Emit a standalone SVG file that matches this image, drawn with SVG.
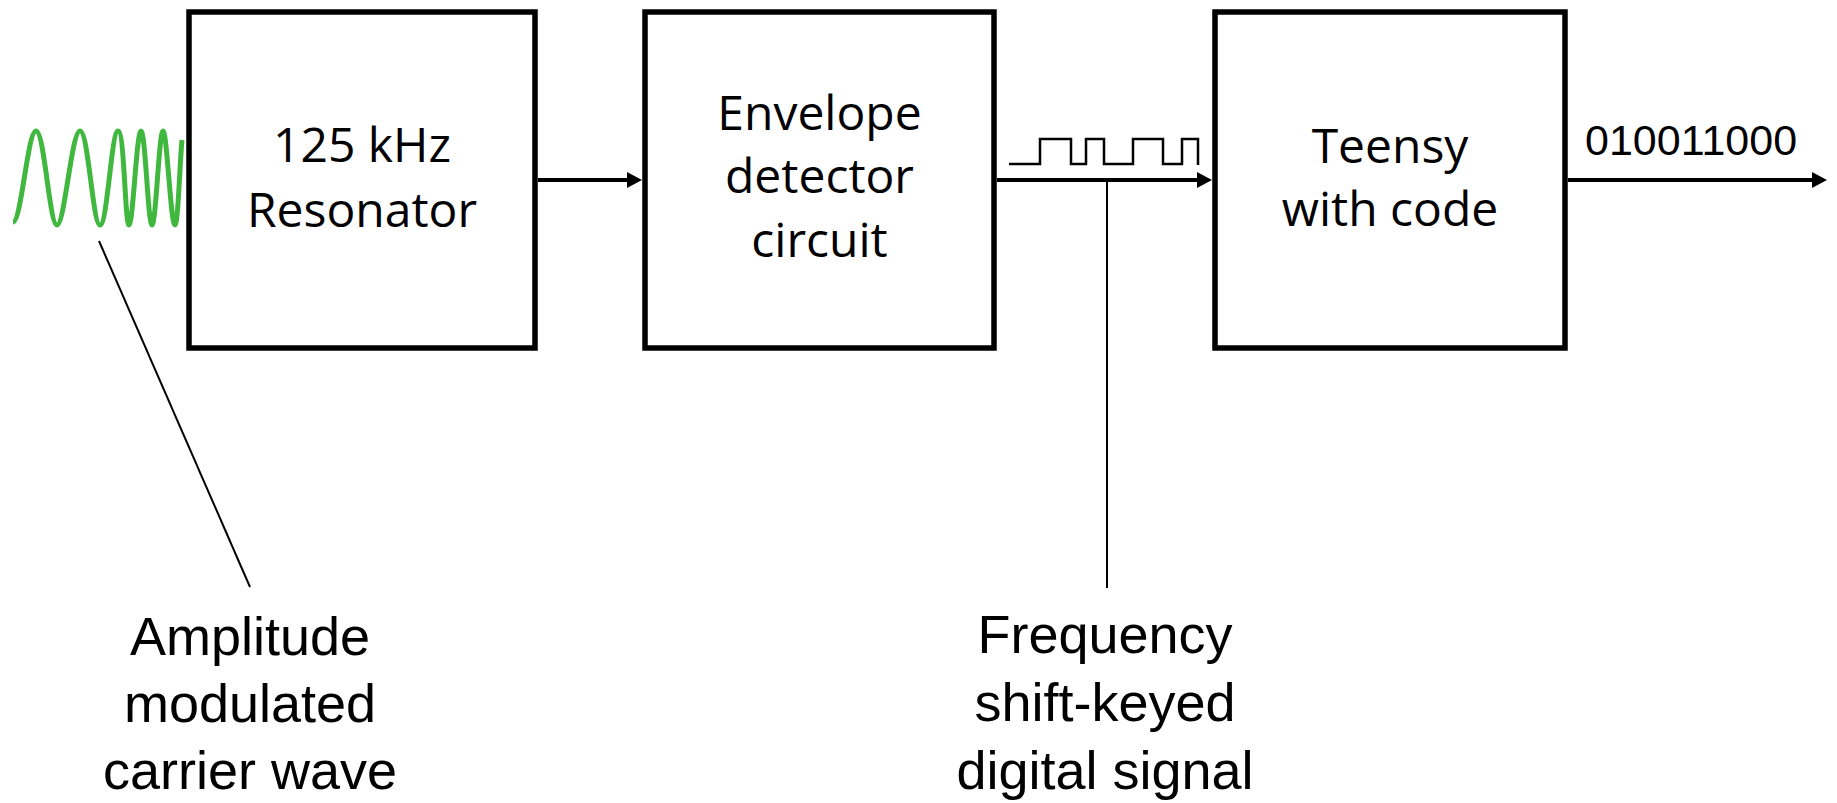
<svg xmlns="http://www.w3.org/2000/svg" width="1837" height="803" viewBox="0 0 1837 803">
<style>
.box{fill:#fff;stroke:#000;stroke-width:5.5}
.bt{font-family:"Open Sans","Liberation Sans",sans-serif;font-size:48px;text-anchor:middle;fill:#000}
.lt{font-family:"Liberation Sans",Arial,sans-serif;font-size:54px;text-anchor:middle;fill:#000}
.arrow{fill:none;stroke:#000;stroke-width:4;marker-end:url(#arr)}
.thin{fill:none;stroke:#000;stroke-width:2}
</style>
<defs>
<marker id="arr" markerUnits="userSpaceOnUse" markerWidth="16" markerHeight="16" refX="2" refY="8" orient="auto">
<path d="M0,0 L15,8 L0,16 z" fill="#000"/>
</marker>
</defs>
<rect width="1837" height="803" fill="#fff"/>
<g id="carrier-wave">
<path d="M13,222 C21.4,222 27.6,131 36,131 S49.4,225 57,225 S71.6,131 80,131 S92.7,225 100,225 S111.5,131 118,131 S125,225 129,225 S136.6,131 141,131 S148,225 152,225 S159,131 163,131 S170.6,225 175,225 C178,225 180,160 182,140" fill="none" stroke="#40b83f" stroke-width="5"/>
</g>
<g id="resonator">
<rect class="box" x="189" y="12" width="346" height="336"/>
<text class="bt" x="362" y="162">125 kHz</text>
<text class="bt" x="362" y="227">Resonator</text>
</g>
<g id="envelope-detector">
<rect class="box" x="645" y="12" width="349" height="336"/>
<text class="bt" x="819.5" y="130">Envelope</text>
<text class="bt" x="819.5" y="193">detector</text>
<text class="bt" x="819.5" y="257">circuit</text>
</g>
<g id="teensy">
<rect class="box" x="1215" y="12" width="350" height="336"/>
<text class="bt" x="1390" y="163">Teensy</text>
<text class="bt" x="1390" y="226">with code</text>
</g>
<g id="connectors">
<path class="arrow" d="M538,180 H629"/>
<path class="arrow" d="M997,180 H1199"/>
<path class="arrow" d="M1568,180 H1814"/>
<path class="thin" d="M1107,180 V588"/>
<path class="thin" d="M99,241 L250,587"/>
</g>
<g id="fsk-signal">
<path d="M1009,164 H1040 V139 H1071 V164 H1086 V139 H1104 V164 H1133 V139 H1163 V164 H1182 V139 H1198 V165" fill="none" stroke="#000" stroke-width="2.5"/>
</g>
<g id="output-bits">
<text x="1585" y="155" font-family="'Liberation Sans',Arial,sans-serif" font-size="43" fill="#000">010011000</text>
</g>
<g id="label-am">
<text class="lt" x="250" y="655">Amplitude</text>
<text class="lt" x="250" y="722">modulated</text>
<text class="lt" x="250" y="789">carrier wave</text>
</g>
<g id="label-fsk">
<text class="lt" x="1105" y="653">Frequency</text>
<text class="lt" x="1105" y="721">shift-keyed</text>
<text class="lt" x="1105" y="789">digital signal</text>
</g>
</svg>
